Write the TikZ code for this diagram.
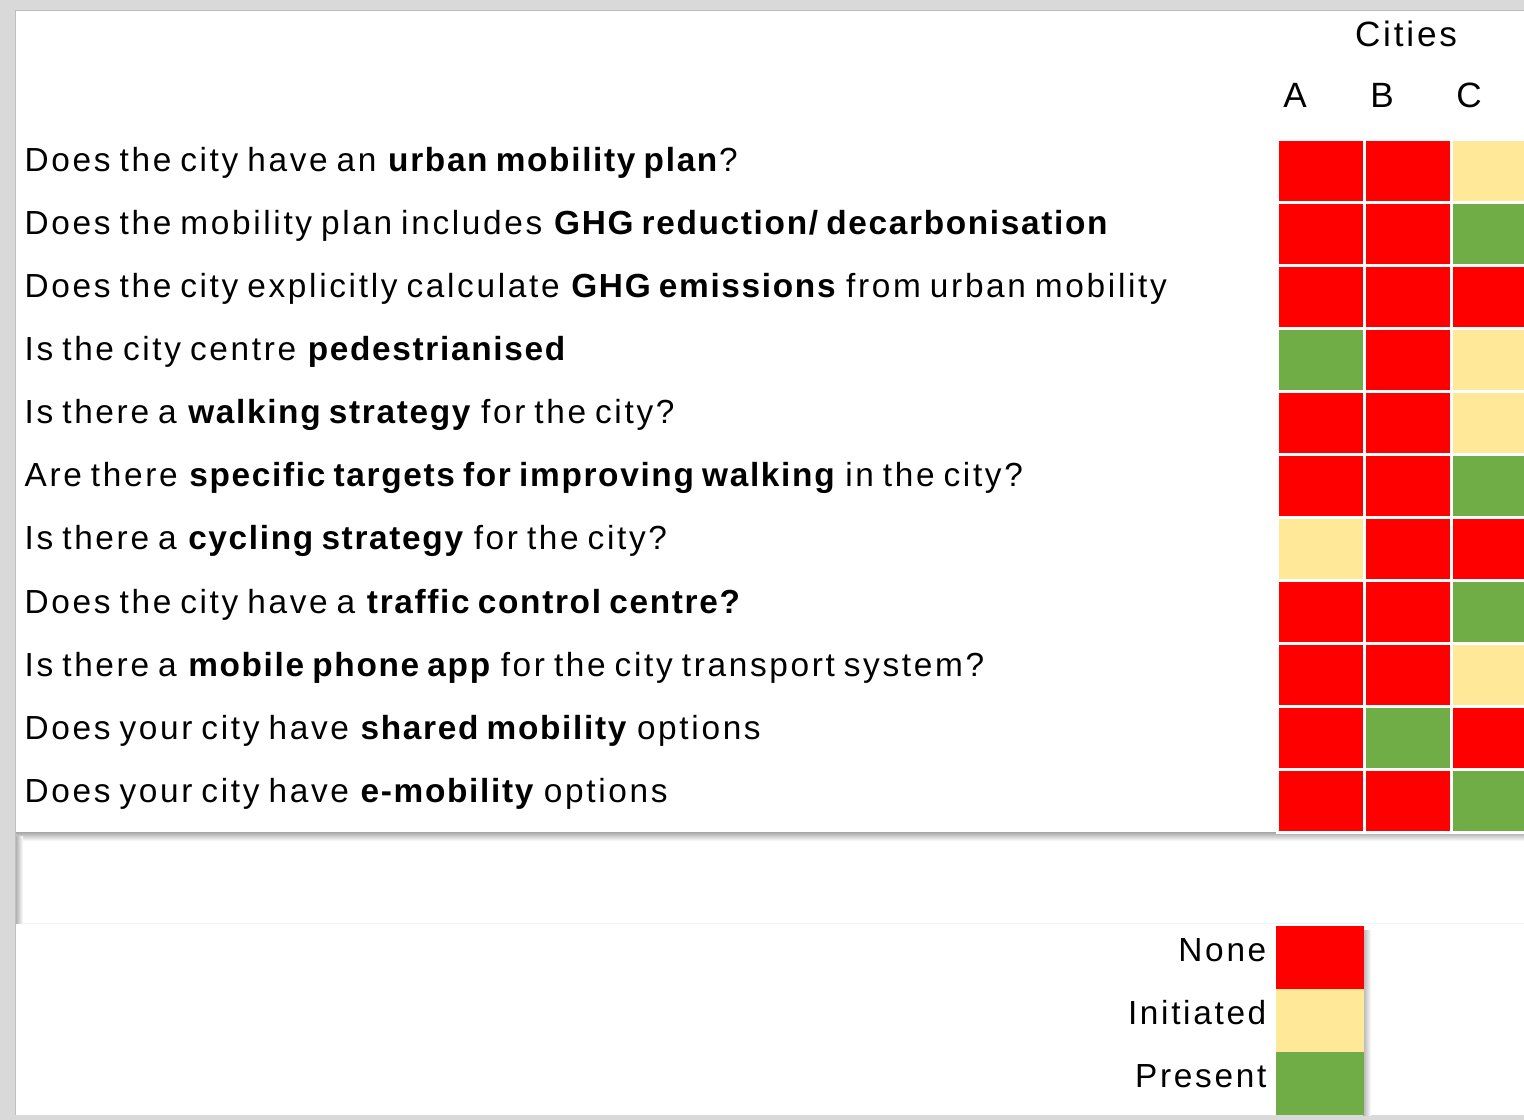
\documentclass[tikz,border=0pt]{standalone}
\usepackage{fontspec}
\setmainfont{Liberation Sans}[LetterSpace=8, WordSpace=0.75, BoldFeatures={LetterSpace=5}]
\usetikzlibrary{positioning}
\definecolor{colNone}{HTML}{FF0000}
\definecolor{colInit}{HTML}{FFE999}
\definecolor{colPres}{HTML}{70AD47}
\definecolor{frameGray}{HTML}{D9D9D9}
\definecolor{frameLine}{HTML}{BFBFBF}
\newcommand{\qfont}{\fontsize{9.5}{11}\selectfont}

\begin{document}
\begin{tikzpicture}[x=0.1mm, y=-0.1mm, font=\qfont]
            \tikzset{
                question/.style={anchor=base west, inner sep=0pt},
                key/.style={anchor=base east, inner sep=0pt},
                head/.style={anchor=base, inner sep=0pt},
                cell/.style={draw=white, line width=0.27mm, minimum width=8.7mm,
                    minimum height=6.3mm, inner sep=0pt, anchor=north west},
                swatch/.style={minimum width=8.8mm, minimum height=6.3mm,
                    inner sep=0pt, anchor=north west}
            }
            \useasboundingbox (0,0) rectangle (1524,1120);
            \clip (0,0) rectangle (1524,1120);

            % Frame and panels
            \fill[frameGray] (0,0) rectangle (1524,1120);
            \fill[white] (16,11) rectangle (1524,1115);
            \draw[frameLine, line width=0.15mm] (15.5,1115) |- (1524,10.5);
            \shade[top color=black!35, bottom color=white] (16,832) rectangle (1524,841);
            \shade[left color=black!30, right color=white] (16,836) rectangle (23,923);
            \draw[black!5] (23,923.5) -- (1524,923.5);

            % Header
            \node[head, font=\fontsize{10}{12}\selectfont] (cities) at (1406,47) {Cities};
            \node[head, font=\fontsize{10}{12}\selectfont] (hA) at (1295,108) {A};
            \node[head, font=\fontsize{10}{12}\selectfont] (hB) at (1382,108) {B};
            \node[head, font=\fontsize{10}{12}\selectfont] (hC) at (1469,108) {C};

            % Questions
            \node[question] (q1) at (24,172) {Does the city have an \textbf{urban mobility plan}?};
            \node[question] (q2) at (24,235) {Does the mobility plan includes \textbf{GHG reduction/ decarbonisation}};
            \node[question] (q3) at (24,298) {Does the city explicitly calculate \textbf{GHG emissions} from urban mobility};
            \node[question] (q4) at (24,361) {Is the city centre \textbf{pedestrianised}};
            \node[question] (q5) at (24,424) {Is there a \textbf{walking strategy} for the city?};
            \node[question] (q6) at (24,487) {Are there \textbf{specific targets for improving walking} in the city?};
            \node[question] (q7) at (24,550) {Is there a \textbf{cycling strategy} for the city?};
            \node[question] (q8) at (24,613) {Does the city have a \textbf{traffic control centre?}};
            \node[question] (q9) at (24,676) {Is there a \textbf{mobile phone app} for the city transport system?};
            \node[question] (q10) at (24,739) {Does your city have \textbf{shared mobility} options};
            \node[question] (q11) at (24,802) {Does your city have \textbf{e-mobility} options};

            % Status cells, one row per question
            \foreach \ca/\cb/\cc [count=\r] in {
                colNone/colNone/colInit, colNone/colNone/colPres, colNone/colNone/colNone,
                colPres/colNone/colInit, colNone/colNone/colInit, colNone/colNone/colPres,
                colInit/colNone/colNone, colNone/colNone/colPres, colNone/colNone/colInit,
                colNone/colPres/colNone, colNone/colNone/colPres} {
                \node[cell, fill=\ca] (A\r) at (1276,75+63*\r) {};
                \node[cell, fill=\cb] (B\r) at (1363,75+63*\r) {};
                \node[cell, fill=\cc] (C\r) at (1450,75+63*\r) {};
            }

            % Legend
            \shade[left color=black!30, right color=white] (1363,930) rectangle (1371,1115);
            \node[swatch, fill=colNone] (kNone) at (1275,925) {};
            \node[swatch, fill=colInit] (kInit) at (1275,988) {};
            \node[swatch, fill=colPres] (kPres) at (1275,1051) {};
            \node[key] (lNone) at (1267,961) {None};
            \node[key] (lInit) at (1267,1024) {Initiated};
            \node[key] (lPres) at (1267,1087) {Present};
        \end{tikzpicture}
\end{document}
